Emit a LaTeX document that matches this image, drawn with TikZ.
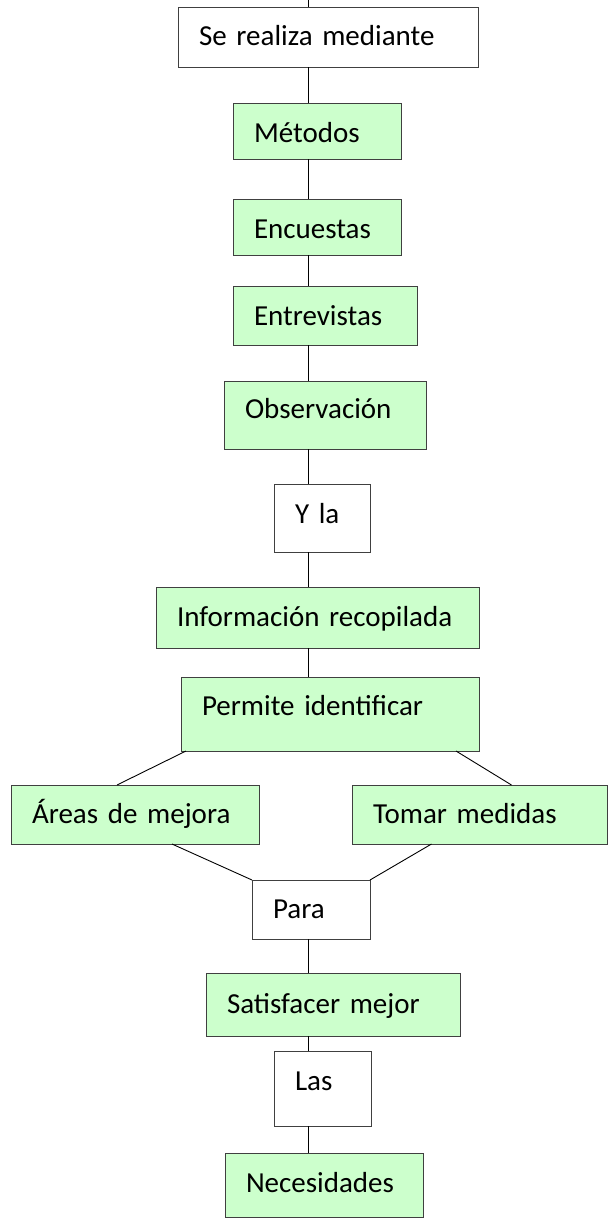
\documentclass[tikz,border=0pt]{standalone}
\usepackage{fontspec}
\setmainfont{Carlito}
\usepackage{tikz}
\definecolor{verde}{RGB}{204,255,204}
\definecolor{borde}{RGB}{64,64,64}

\begin{document}
\begin{tikzpicture}[x=1pt,y=-1pt]
      \tikzset{
        caja/.style={draw=borde, line width=0.8pt, rectangle, anchor=north west, outer sep=0pt,
          inner xsep=21pt, inner ysep=2pt, align=left, text height=22pt, text depth=5pt,
          font=\fontsize{29pt}{34pt}\selectfont},
        enlace/.style={caja, fill=white},
        concepto/.style={caja, fill=verde},
        line/.style={draw, line width=0.9pt},
      }
      \useasboundingbox (0,0) rectangle (608,1218);
      \coordinate (spine) at (308,0);

      \node [enlace, text width=258pt, minimum height=60pt] at (178,7) (real) {Se realiza mediante};
      \node [concepto, text width=126pt, minimum height=56pt, text depth=0pt] at (233,103) (met) {Métodos};
      \node [concepto, text width=126pt, minimum height=56pt, text depth=0pt] at (233,199) (enc) {Encuestas};
      \node [concepto, text width=142pt, minimum height=59pt, text depth=3pt] at (233,286) (ent) {Entrevistas};
      \node [concepto, text width=160pt, minimum height=68pt, text depth=16pt] at (224,381) (obs) {Observación};
      \node [enlace, text width=54pt, minimum height=68pt, text depth=12pt] at (274,484) (yla) {Y la};
      \node [concepto, text width=281pt, minimum height=61pt] at (156,587) (info) {Información recopilada};
      \node [concepto, text width=256pt, minimum height=74pt, text depth=20pt] at (181,677) (perm) {Permite identificar};
      \node [concepto, text width=206pt, minimum height=59pt] at (11,785) (areas) {Áreas de mejora};
      \node [concepto, text width=213pt, minimum height=59pt] at (352,785) (tomar) {Tomar medidas};
      \node [enlace, text width=76pt, minimum height=59pt] at (252,880) (para) {Para};
      \node [concepto, text width=212pt, minimum height=63pt] at (206,973) (sat) {Satisfacer mejor};
      \node [enlace, text width=55pt, minimum height=75pt, text depth=19pt] at (274,1051) (las) {Las};
      \node [concepto, text width=156pt, minimum height=64pt, text depth=8pt] at (225,1153) (nec) {Necesidades};

      % vertical spine
      \path [line] (spine)--(real.north -| spine);
      \path [line] (real.south -| spine)--(met.north -| spine);
      \path [line] (met.south -| spine)--(enc.north -| spine);
      \path [line] (enc.south -| spine)--(ent.north -| spine);
      \path [line] (ent.south -| spine)--(obs.north -| spine);
      \path [line] (obs.south -| spine)--(yla.north -| spine);
      \path [line] (yla.south -| spine)--(info.north -| spine);
      \path [line] (info.south -| spine)--(perm.north -| spine);

      % split and join
      \path [line] ([xshift=5pt]perm.south west)--([xshift=-18pt]areas.north);
      \path [line] ([xshift=-23pt]perm.south east)--([xshift=32pt]tomar.north);
      \path [line] ([xshift=37pt]areas.south)--(para.north west);
      \path [line] ([xshift=-48pt]tomar.south)--(para.north east);

      \path [line] (para.south -| spine)--(sat.north -| spine);
      \path [line] (sat.south -| spine)--(las.north -| spine);
      \path [line] (las.south -| spine)--(nec.north -| spine);
\end{tikzpicture}
\end{document}
